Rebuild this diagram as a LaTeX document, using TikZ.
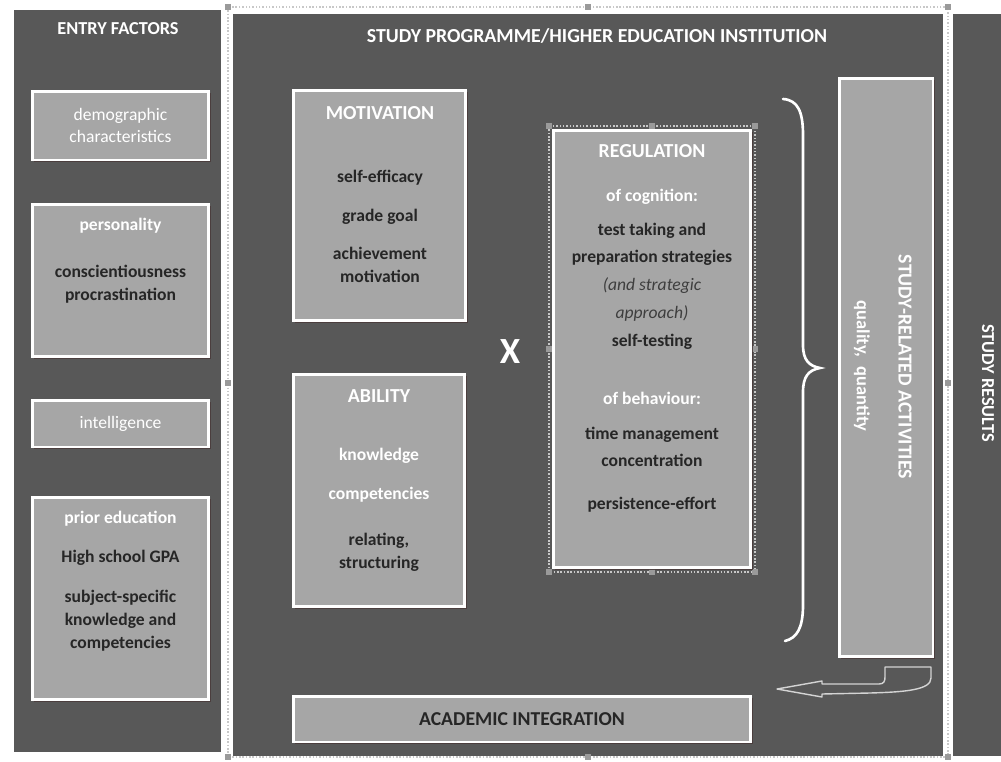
\documentclass[tikz,border=0pt]{standalone}
\usepackage{fontspec}
\setmainfont{Carlito}
\usetikzlibrary{shadows}
\definecolor{panelgray}{HTML}{585858}
\definecolor{boxgray}{HTML}{A6A6A6}
\definecolor{darktext}{HTML}{262626}
\definecolor{softtext}{HTML}{3E3E3E}
\definecolor{handlegray}{HTML}{9A9A9A}
\definecolor{framegray}{HTML}{C8C8C8}
\definecolor{shadowbrown}{HTML}{4A3C3C}
\definecolor{arrowgray}{HTML}{D4D4D4}

\begin{document}
\begin{tikzpicture}[x=0.02cm, y=-0.02cm,
    panel/.style={fill=panelgray},
    box/.style={draw=white, line width=1.7pt, fill=boxgray, inner sep=0pt, align=center,
      drop shadow={shadow xshift=1.2pt, shadow yshift=-1.2pt, fill=shadowbrown, opacity=0.9}},
    head/.style={text=white, font=\fontsize{11.3}{13}\selectfont\bfseries, align=center},
    sub/.style={text=white, font=\fontsize{10}{13}\selectfont\bfseries, align=center},
    soft/.style={text=white, font=\fontsize{10}{12.5}\selectfont, align=center},
    item/.style={text=darktext, font=\fontsize{10}{13}\selectfont\bfseries, align=center},
    wide/.style={font=\fontsize{10}{15.8}\selectfont\bfseries},
    frame/.style={draw=framegray, densely dotted, line width=0.9pt}]
  \fill[white] (0,0) rectangle (1001,761);
  \useasboundingbox (0,0) rectangle (1001,761);
  % panels
  \fill[panel] (14,10) rectangle (221,752);
  \fill[panel] (233,14) rectangle (943,756);
  \fill[panel] (953,14) rectangle (1001,756);
  \draw[frame] (228,7) rectangle (948,757);
  \draw[frame] (549,126) rectangle (755,572);
  \foreach \hx/\hy in {228/7,588/7,948/7,228/383,948/383,228/757,588/757,948/757,
      549/126,652/126,755/126,549/349,755/349,549/572,652/572,755/572}
    \fill[handlegray] (\hx-3,\hy-3) rectangle (\hx+3,\hy+3);

  % entry factors
  \node[head, font=\fontsize{10.4}{12}\selectfont\bfseries] (entry) at (118,29) {ENTRY FACTORS};
  \node[box, soft, minimum width=3.54cm, minimum height=1.38cm] (demo) at (120.5,125.5) {demographic\\characteristics};
  \node[box, minimum width=3.54cm, minimum height=3.06cm] (pers) at (120.5,280.5) {};
  \node[sub] (perstitle) at (120.5,226) {personality};
  \node[item] (perstxt) at (120.5,284.5) {conscientiousness\\procrastination};
  \node[box, soft, minimum width=3.54cm, minimum height=0.94cm] (intel) at (120.5,423.5) {intelligence};
  \node[box, minimum width=3.54cm, minimum height=4.06cm] (prior) at (120.5,598.5) {};
  \node[sub] (priortitle) at (120.5,519) {prior education};
  \node[item] (gpa) at (120.5,558) {High school GPA};
  \node[item] (subj) at (120.5,620.5) {subject-specific\\knowledge and\\competencies};

  % study programme
  \node[head] (progtitle) at (597,36) {STUDY PROGRAMME/HIGHER EDUCATION INSTITUTION};
  \node[box, minimum width=3.46cm, minimum height=4.62cm] (motiv) at (379.5,205.5) {};
  \node[head] (motivtitle) at (380,113) {MOTIVATION};
  \node[item] (motivtxt) at (380,226.5) {self-efficacy\\[9pt]grade goal\\[9pt]achievement\\motivation};
  \node[box, minimum width=3.44cm, minimum height=4.66cm] (abil) at (379,490.5) {};
  \node[head] (abiltitle) at (379,396) {ABILITY};
  \node[sub] (abiltxt) at (379,475.5) {knowledge\\[9pt]competencies};
  \node[item] (abilrel) at (379,552.5) {relating,\\structuring};
  \node[text=white, font=\fontsize{21}{24}\selectfont\bfseries] (times) at (510,352) {X};
  \node[box, minimum width=3.96cm, minimum height=8.76cm] (regul) at (652,349) {};
  \node[head] (regtitle) at (652,151) {REGULATION};
  \node[sub] (cogn) at (652,197) {of cognition:};
  \node[item, wide] (cogntxt) at (652,286) {test taking and\\preparation strategies\\
    {\mdseries\itshape\color{softtext}(and strategic}\\{\mdseries\itshape\color{softtext}approach)}\\self-testing};
  \node[sub] (behav) at (652,398) {of behaviour:};
  \node[item, wide] (behavtxt) at (652,447) {time management\\concentration};
  \node[item] (persist) at (652,505) {persistence-effort};
  \draw[white, line width=1.5pt, line cap=round] (783,99) .. controls (798,100) and (803,112) .. (803,135)
    -- (803,345) .. controls (803,360) and (809,366) .. (820,368) .. controls (809,370) and (803,376) .. (803,392)
    -- (803,605) .. controls (803,628) and (797,638) .. (785,641);
  \node[box, minimum width=1.88cm, minimum height=11.58cm] (activ) at (886,367.5) {};
  \node[head, rotate=-90] (activtitle) at (905,367) {STUDY-RELATED ACTIVITIES};
  \node[sub, font=\fontsize{10.5}{13}\selectfont\bfseries, rotate=-90] (activtxt) at (862,366) {quality,\enspace quantity};
  \draw[arrowgray, line width=0.8pt, line join=round] (777,689) -- (822,681) -- (822,684) -- (879,684)
    .. controls (884,684) and (885,681) .. (885,677) -- (885,667) -- (931,667) -- (931,678)
    .. controls (931,690) and (905,692) .. (870,693) -- (822,694) -- (822,697) -- cycle;
  \node[box, item, font=\fontsize{11.2}{13}\selectfont\bfseries, minimum width=9.16cm, minimum height=0.92cm] (acad) at (522,719) {ACADEMIC INTEGRATION};

  % study results
  \node[head, font=\fontsize{10.4}{12}\selectfont\bfseries, rotate=-90] (results) at (988,383) {STUDY RESULTS};
\end{tikzpicture}
\end{document}
